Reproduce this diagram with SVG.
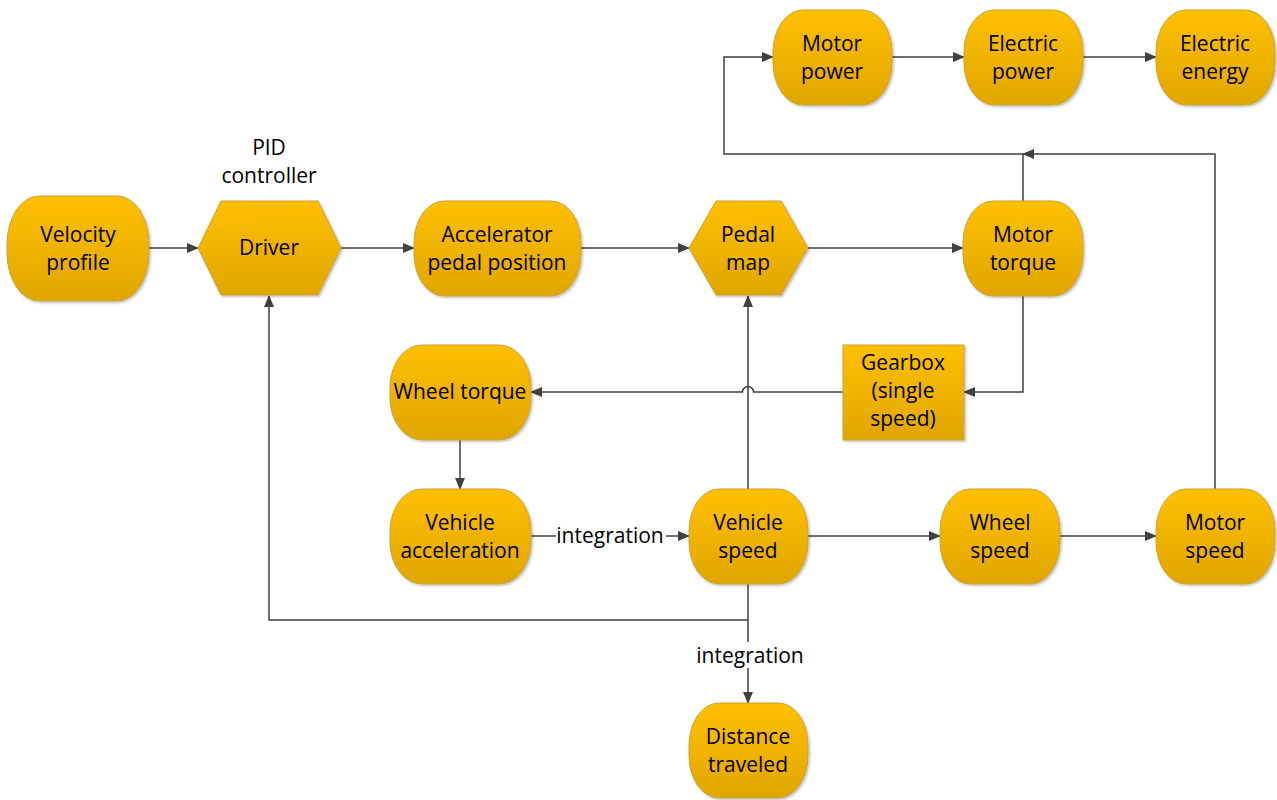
<svg xmlns="http://www.w3.org/2000/svg" width="1277" height="800" viewBox="0 0 1277 800">
  <style>
    .node { fill: url(#gold); stroke: #c9a23a; stroke-width: 1; filter: url(#shadow); }
    .lbl { font-family: "Open Sans", "Liberation Sans", sans-serif; font-size: 21px; fill: #000; text-anchor: middle; }
    .wire { fill: none; stroke: #404040; stroke-width: 1.5; }
    .arrow { marker-end: url(#head); }
  </style>
  <defs>
    <linearGradient id="gold" x1="0" y1="0" x2="0" y2="1">
      <stop offset="0" stop-color="#ffc000"/>
      <stop offset="1" stop-color="#e0a600"/>
    </linearGradient>
    <filter id="shadow" x="-10%" y="-10%" width="125%" height="125%">
      <feDropShadow dx="1.5" dy="1.5" stdDeviation="1" flood-color="#000" flood-opacity="0.25"/>
    </filter>
    <marker id="head" markerWidth="12" markerHeight="10" refX="11" refY="5" orient="auto" markerUnits="userSpaceOnUse">
      <path d="M0,0 L12,5 L0,10 Z" fill="#404040"/>
    </marker>
  </defs>

  <rect width="1277" height="800" fill="#fff"/>

  <!-- connectors -->
  <g id="connectors">
    <path class="wire arrow" d="M149,248 H198"/>
    <path class="wire arrow" d="M341,248 H414"/>
    <path class="wire arrow" d="M581,248 H689"/>
    <path class="wire arrow" d="M808,248 H963"/>
    <path class="wire arrow" d="M1023,201 V154 H724 V57 H773"/>
    <path class="wire arrow" d="M1215,489 V154 H1023"/>
    <path class="wire arrow" d="M892,57 H964"/>
    <path class="wire arrow" d="M1083,57 H1156"/>
    <path class="wire arrow" d="M1023,296 V392 H964"/>
    <path class="wire arrow" d="M843,392 H753.5 A5.5,5.5 0 0 0 742.5,392 H531"/>
    <path class="wire arrow" d="M460,440 V489"/>
    <path class="wire arrow" d="M531,536 H689"/>
    <path class="wire arrow" d="M748,489 V296"/>
    <path class="wire arrow" d="M808,536 H940"/>
    <path class="wire arrow" d="M1060,536 H1156"/>
    <path class="wire arrow" d="M748,584 V620 H269 V296"/>
    <path class="wire arrow" d="M748,620 V703"/>
    <rect x="556" y="524" width="110" height="24" fill="#fff"/>
    <text class="lbl" x="610" y="543">integration</text>
    <rect x="696" y="642" width="110" height="26" fill="#fff"/>
    <text class="lbl" x="750" y="663">integration</text>
  </g>

  <g id="velocity-profile">
    <rect class="node" x="7" y="196" width="142" height="105" rx="32" ry="48"/>
    <text class="lbl" x="78" y="242">Velocity</text>
    <text class="lbl" x="78" y="270">profile</text>
  </g>

  <g id="driver">
    <polygon class="node" points="198,248 221,201 318,201 341,248 318,295 221,295"/>
    <text class="lbl" x="269" y="255">Driver</text>
    <text class="lbl" x="269" y="155">PID</text>
    <text class="lbl" x="269" y="183">controller</text>
  </g>

  <g id="accelerator-pedal-position">
    <rect class="node" x="414" y="201" width="167" height="95" rx="30" ry="42"/>
    <text class="lbl" x="497" y="242">Accelerator</text>
    <text class="lbl" x="497" y="270">pedal position</text>
  </g>

  <g id="pedal-map">
    <polygon class="node" points="689,248 716,201 781,201 808,248 781,295 716,295"/>
    <text class="lbl" x="748" y="242">Pedal</text>
    <text class="lbl" x="748" y="270">map</text>
  </g>

  <g id="motor-torque">
    <rect class="node" x="963" y="201" width="120" height="95" rx="30" ry="42"/>
    <text class="lbl" x="1023" y="242">Motor</text>
    <text class="lbl" x="1023" y="270">torque</text>
  </g>

  <g id="motor-power">
    <rect class="node" x="773" y="10" width="119" height="95" rx="30" ry="42"/>
    <text class="lbl" x="832" y="51">Motor</text>
    <text class="lbl" x="832" y="79">power</text>
  </g>

  <g id="electric-power">
    <rect class="node" x="964" y="10" width="119" height="95" rx="30" ry="42"/>
    <text class="lbl" x="1023" y="51">Electric</text>
    <text class="lbl" x="1023" y="79">power</text>
  </g>

  <g id="electric-energy">
    <rect class="node" x="1156" y="10" width="119" height="95" rx="30" ry="42"/>
    <text class="lbl" x="1215" y="51">Electric</text>
    <text class="lbl" x="1215" y="79">energy</text>
  </g>

  <g id="gearbox">
    <rect class="node" x="843" y="345" width="121" height="95"/>
    <text class="lbl" x="903" y="370">Gearbox</text>
    <text class="lbl" x="903" y="398">(single</text>
    <text class="lbl" x="903" y="426">speed)</text>
  </g>

  <g id="wheel-torque">
    <rect class="node" x="390" y="345" width="141" height="95" rx="32" ry="42"/>
    <text class="lbl" x="460" y="399">Wheel torque</text>
  </g>

  <g id="vehicle-acceleration">
    <rect class="node" x="390" y="489" width="141" height="95" rx="32" ry="42"/>
    <text class="lbl" x="460" y="530">Vehicle</text>
    <text class="lbl" x="460" y="558">acceleration</text>
  </g>

  <g id="vehicle-speed">
    <rect class="node" x="689" y="489" width="119" height="95" rx="30" ry="42"/>
    <text class="lbl" x="748" y="530">Vehicle</text>
    <text class="lbl" x="748" y="558">speed</text>
  </g>

  <g id="wheel-speed">
    <rect class="node" x="940" y="489" width="120" height="95" rx="30" ry="42"/>
    <text class="lbl" x="1000" y="530">Wheel</text>
    <text class="lbl" x="1000" y="558">speed</text>
  </g>

  <g id="motor-speed">
    <rect class="node" x="1156" y="489" width="119" height="95" rx="30" ry="42"/>
    <text class="lbl" x="1215" y="530">Motor</text>
    <text class="lbl" x="1215" y="558">speed</text>
  </g>

  <g id="distance-traveled">
    <rect class="node" x="689" y="703" width="119" height="95" rx="30" ry="42"/>
    <text class="lbl" x="748" y="744">Distance</text>
    <text class="lbl" x="748" y="772">traveled</text>
  </g>
</svg>
